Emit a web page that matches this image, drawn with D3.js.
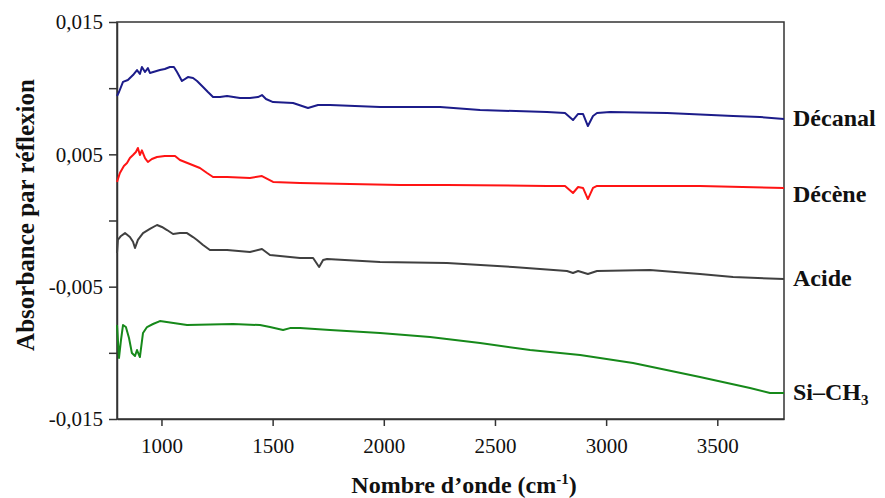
<!DOCTYPE html>
<html>
<head>
<meta charset="utf-8">
<script src="https://cdn.jsdelivr.net/npm/d3@7"></script>
<style>
  body { margin: 0; background: #fff; }
  svg { display: block; }
  .axis path, .axis line { stroke: #333; stroke-width: 1.5; }
  .axis text { font-size: 21px; fill: #111; }
</style>
</head>
<body>
<svg></svg>
<script>
        // Spectra: wavenumber (cm-1) and absorbance
        var wnDecanal = [800, 809, 827, 849, 872, 890, 903, 912, 926, 939, 948, 993, 1015, 1038, 1056, 1070, 1092, 1119, 1142, 1160, 1187, 1209, 1232, 1263, 1295, 1353, 1398, 1434, 1452, 1470, 1502, 1592, 1659, 1704, 1758, 1983, 2253, 2433, 2734, 2815, 2851, 2874, 2896, 2918, 2941, 2959, 3018, 3274, 3571, 3692, 3800];
        var absDecanal = [0.00941, 0.00971, 0.01047, 0.01062, 0.01099, 0.01137, 0.01107, 0.0116, 0.01122, 0.01152, 0.01115, 0.01137, 0.01145, 0.0116, 0.0116, 0.01122, 0.01054, 0.01084, 0.01077, 0.01054, 0.01009, 0.00971, 0.00933, 0.00933, 0.00941, 0.00926, 0.00926, 0.00933, 0.00948, 0.00918, 0.00895, 0.00888, 0.0085, 0.00873, 0.00873, 0.00858, 0.00858, 0.00835, 0.0082, 0.00812, 0.00759, 0.00805, 0.00805, 0.00714, 0.0079, 0.00812, 0.0082, 0.00812, 0.0079, 0.00782, 0.00767];

        var wnDecene = [800, 813, 831, 845, 858, 872, 885, 894, 903, 912, 926, 939, 957, 980, 1015, 1061, 1083, 1128, 1173, 1205, 1232, 1295, 1398, 1452, 1502, 1623, 2073, 2284, 2734, 2815, 2851, 2874, 2896, 2918, 2941, 2959, 3018, 3422, 3800];
        var absDecene = [0.00291, 0.00359, 0.00412, 0.00434, 0.00472, 0.00495, 0.00518, 0.00548, 0.00495, 0.0053, 0.00472, 0.00442, 0.00465, 0.0048, 0.00487, 0.00487, 0.00457, 0.00427, 0.00397, 0.00359, 0.00329, 0.00329, 0.00321, 0.00336, 0.00291, 0.00283, 0.00268, 0.00268, 0.00261, 0.00261, 0.00208, 0.00253, 0.00246, 0.00162, 0.00246, 0.00261, 0.00261, 0.00261, 0.00246];

        var wnAcide = [800, 804, 818, 836, 858, 872, 881, 894, 917, 948, 980, 1002, 1025, 1052, 1083, 1115, 1142, 1160, 1187, 1218, 1295, 1398, 1452, 1488, 1623, 1682, 1709, 1727, 1745, 1983, 2284, 2581, 2824, 2851, 2874, 2918, 2959, 3197, 3422, 3571, 3800];
        var absAcide = [-0.00246, -0.00147, -0.00117, -0.00095, -0.00125, -0.00161, -0.00208, -0.00147, -0.00095, -0.00064, -0.00034, -0.00049, -0.00072, -0.00102, -0.00095, -0.00095, -0.00125, -0.00147, -0.00185, -0.00223, -0.00223, -0.00238, -0.00215, -0.00261, -0.00283, -0.00283, -0.00351, -0.00299, -0.00291, -0.00314, -0.00321, -0.00351, -0.00382, -0.00397, -0.00382, -0.00404, -0.00382, -0.00374, -0.00404, -0.00427, -0.00442];

        var wnSiCH3 = [800, 809, 818, 827, 840, 854, 867, 881, 890, 903, 917, 935, 962, 993, 1115, 1322, 1443, 1488, 1547, 1578, 1623, 1758, 1983, 2208, 2433, 2658, 2883, 3121, 3422, 3647, 3737, 3800];
        var absSiCH3 = [-0.0079, -0.01039, -0.00903, -0.0079, -0.00805, -0.00888, -0.01001, -0.01024, -0.00979, -0.01032, -0.0085, -0.00805, -0.00782, -0.0076, -0.0079, -0.00782, -0.0079, -0.00805, -0.00828, -0.00813, -0.00813, -0.00828, -0.0085, -0.00881, -0.00926, -0.00979, -0.01017, -0.01077, -0.01183, -0.01266, -0.01304, -0.01304];

        var seriesNames = ["Décanal", "Décène", "Acide", "Si–CH3"];
        var seriesColors = ["#1c1c8a", "#ff1414", "#404040", "#16891a"];

        // Axis ticks
        var xTicks = [1000, 1500, 2000, 2500, 3000, 3500];
        var yTicks = [-0.015, -0.010, -0.005, 0, 0.005, 0.010, 0.015];
        var yTickLabels = ["-0,015", "", "-0,005", "", "0,005", "", "0,015"];

        var series = [
            {name: seriesNames[0], color: seriesColors[0], x: wnDecanal, y: absDecanal},
            {name: seriesNames[1], color: seriesColors[1], x: wnDecene, y: absDecene},
            {name: seriesNames[2], color: seriesColors[2], x: wnAcide, y: absAcide},
            {name: seriesNames[3], color: seriesColors[3], x: wnSiCH3, y: absSiCH3}
        ];

        var serif = "Liberation Serif";

        // Chart dimensions
        const margin = {top: 22, right: 101, bottom: 79, left: 117};
        var W = 885, H = 498;
        var w = W - margin.left - margin.right;
        var h = H - margin.top - margin.bottom;

        var svg = d3.select("svg")
                    .attr("width", W)
                    .attr("height", H)
                    .append("g")
                    .attr("transform", "translate(" + margin.left + "," + margin.top + ")");

        var xScale = d3.scaleLinear()
                        .domain([800, 3800])
                        .range([0, w]);

        var yScale = d3.scaleLinear()
                        .domain([-0.015, 0.015])
                        .range([h, 0]);

        // Frame (top and right sides)
        svg.append("rect")
            .attr("x", 0)
            .attr("y", 0)
            .attr("width", w)
            .attr("height", h)
            .attr("fill", "none")
            .attr("stroke", "#333")
            .attr("stroke-width", 1.5);

        // X Axis
        var xAxis = d3.axisBottom(xScale)
                      .tickValues(xTicks)
                      .tickSize(7)
                      .tickPadding(12)
                      .tickSizeOuter(0)
                      .tickFormat(d3.format("d"));

        svg.append("g")
            .attr("class", "axis")
            .attr("transform", `translate(0, ${h})`)
            .call(xAxis)
            .attr("font-family", serif);

        // Y Axis
        var yAxis = d3.axisLeft(yScale)
                      .tickValues(yTicks)
                      .tickSize(8)
                      .tickPadding(6)
                      .tickSizeOuter(0)
                      .tickFormat(function(d, i) { return yTickLabels[i]; });

        svg.append("g")
            .attr("class", "axis")
            .call(yAxis)
            .attr("font-family", serif);

        // Spectra
        var line = d3.line()
                     .x(function(d) { return xScale(d[0]); })
                     .y(function(d) { return yScale(d[1]); });

        svg.selectAll(".spectrum")
            .data(series)
            .enter()
            .append("path")
            .attr("class", "spectrum")
            .attr("fill", "none")
            .attr("stroke", function(d) { return d.color; })
            .attr("stroke-width", 2)
            .attr("stroke-linejoin", "round")
            .attr("d", function(d) {
                return line(d.x.map(function(v, i) { return [v, d.y[i]]; }));
            });

        // Series labels on the right
        var labelY = [126, 202, 286, 400];
        var labels = svg.selectAll(".label")
            .data(series)
            .enter()
            .append("text")
            .attr("class", "label")
            .attr("x", w + 9)
            .attr("y", function(d, i) { return labelY[i] - margin.top; })
            .attr("font-family", serif)
            .attr("font-weight", "bold")
            .attr("font-size", "24px")
            .attr("fill", "#111");

        labels.each(function(d) {
            var t = d3.select(this);
            if (d.name === "Si–CH3") {
                t.append("tspan").text("Si–CH");
                t.append("tspan").attr("font-size", "15px").attr("dy", 5).text("3");
            } else {
                t.text(d.name);
            }
        });

        // X axis title
        var xTitle = svg.append("text")
            .attr("text-anchor", "middle")
            .attr("x", 464 - margin.left)
            .attr("y", 493 - margin.top)
            .attr("font-family", serif)
            .attr("font-weight", "bold")
            .attr("font-size", "24px")
            .attr("fill", "#111");
        xTitle.append("tspan").text("Nombre d’onde (cm");
        xTitle.append("tspan").attr("font-size", "15px").attr("dy", -9).text("-1");
        xTitle.append("tspan").attr("dy", 9).text(")");

        // Y axis title
        svg.append("text")
            .attr("text-anchor", "middle")
            .attr("transform", "translate(" + (34 - margin.left) + "," + (215 - margin.top) + ") rotate(-90)")
            .attr("font-family", serif)
            .attr("font-weight", "bold")
            .attr("font-size", "25px")
            .attr("fill", "#111")
            .text("Absorbance par réflexion");
</script>
</body>
</html>
